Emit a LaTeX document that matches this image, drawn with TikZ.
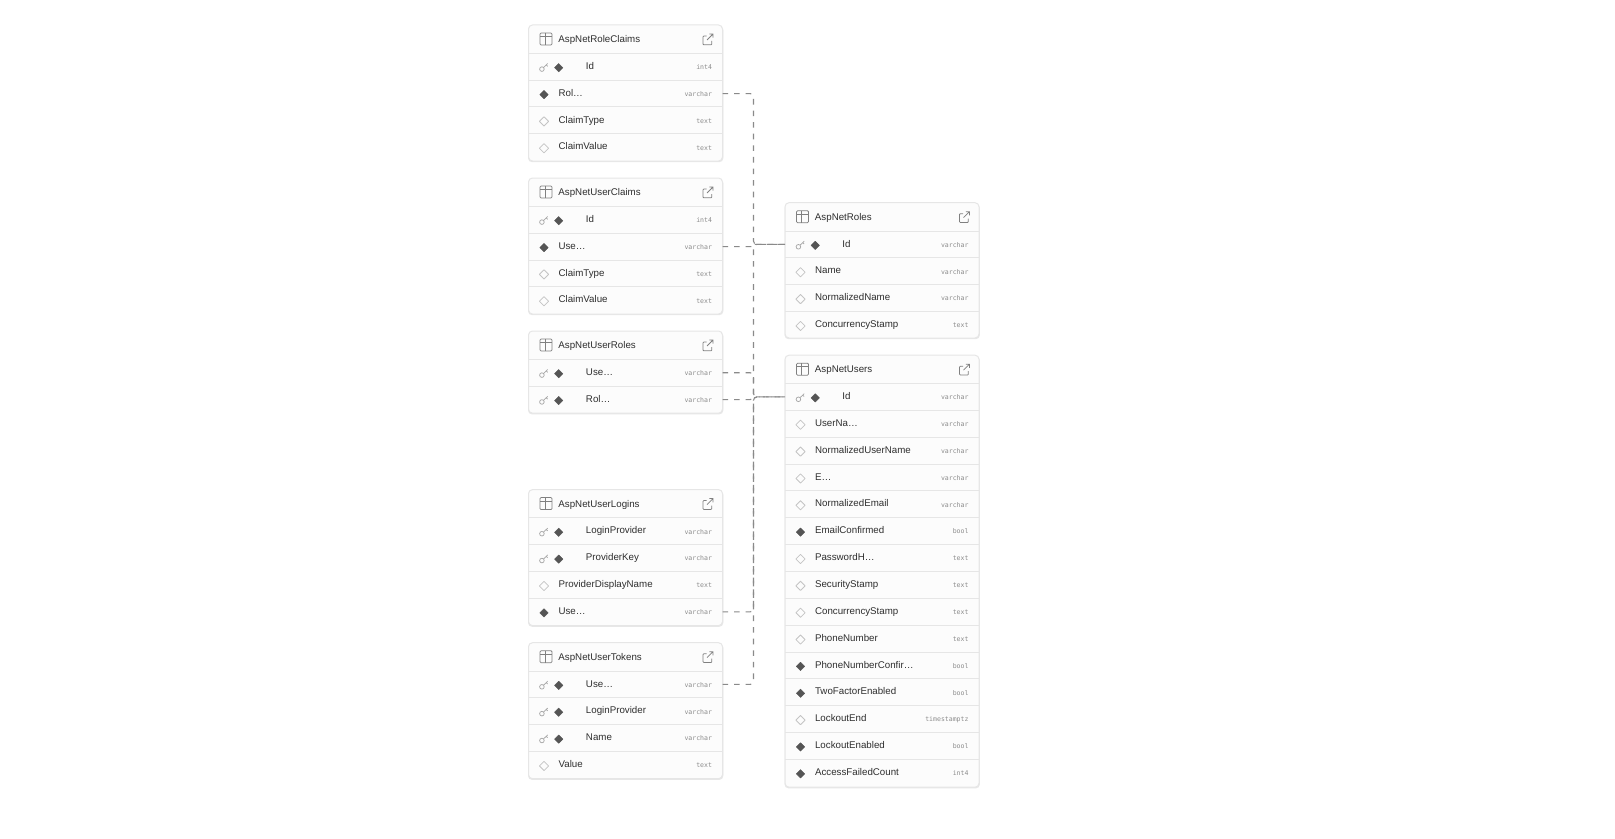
\documentclass[tikz,border=0pt]{standalone}
\usepackage{fontspec}
\setmainfont{Liberation Sans}
\newfontfamily\typefont{DejaVu Sans Mono}
\definecolor{dkd}{HTML}{555555}
\definecolor{ltd}{HTML}{C4C4C4}
\definecolor{sepc}{HTML}{E6E6E6}
\definecolor{rowc}{HTML}{FCFCFC}
\definecolor{icon}{HTML}{808080}
\definecolor{txtc}{HTML}{2E2E2E}
\definecolor{typec}{HTML}{8C8C8C}
\definecolor{connc}{HTML}{8A8A8A}
\tikzset{
  x=0.75pt,y=-0.75pt,
  tablebox/.style={draw=sepc,line width=0.75pt,fill=rowc,rounded corners=3pt,anchor=north west,inner sep=0pt,outer sep=0pt,minimum width=145.5pt},
  tableshade/.style={draw=none,fill=black!9,rounded corners=3pt,anchor=north west,inner sep=0pt,outer sep=0pt,minimum width=146.5pt},
  rowbox/.style={anchor=north west,inner sep=0pt,outer sep=0pt,minimum width=145.5pt,minimum height=20.14pt},
  rowline/.style={draw=sepc,line width=0.75pt},
  label/.style={anchor=base west,inner sep=0pt,text=txtc,font=\fontsize{7.3}{9}\selectfont},
  typelabel/.style={anchor=base east,inner sep=0pt,text=typec,font=\typefont\fontsize{4.9}{6}\selectfont},
  keymark/.style={draw=ltd!85!black,line width=0.55pt},
  diafull/.style={fill=dkd,draw=dkd,line width=0.3pt,line join=round},
  diaempty/.style={draw=ltd,line width=0.6pt,line join=round},
  iconline/.style={draw=icon,line width=0.55pt},
  conn/.style={draw=connc,line width=0.8pt,dash pattern=on 4.2pt off 4.5pt,rounded corners=2.5pt},
  connshort/.style={conn,rounded corners=1.2pt},
}
% \dbtable{id}{x}{y}{title}{rows: kind/text/type}; kind 1 key+filled, 2 filled, 3 hollow
\newcommand{\dbtable}[5]{%
  \coordinate (#1-o) at (#2,#3);
  \node[rowbox,minimum height=21.2pt] (#1-h) at (#2,#3) {};
  \node[label] (#1-title) at (#2+29.7,#3+17.6) {#4};
  % table icon
  \draw[iconline,rounded corners=0.8pt] (#2+11.5,#3+8) rectangle (#2+23.5,#3+20);
  \draw[iconline] (#2+11.5,#3+11.5) -- (#2+23.5,#3+11.5) (#2+16.5,#3+8) -- (#2+16.5,#3+20);
  % external link icon
  \draw[iconline,rounded corners=0.6pt] (#2+178,#3+11) -- (#2+174.5,#3+11) -- (#2+174.5,#3+19.8) -- (#2+183.3,#3+19.8) -- (#2+183.3,#3+16);
  \draw[iconline] (#2+178.5,#3+15) -- (#2+184.5,#3+9) (#2+180.8,#3+9) -- (#2+184.5,#3+9) -- (#2+184.5,#3+12.7);
  \foreach \kd/\txt/\typ [count=\i] in {#5}{%
    \pgfmathsetmacro{\rt}{#3+28.3+(\i-1)*26.85}
    \pgfmathsetmacro{\rc}{\rt+14.4}
    \pgfmathsetmacro{\rb}{\rt+16.2}
    \node[rowbox] (#1-\i) at (#2,\rt) {};
    \draw[rowline] (#2,\rt) -- (#2+194,\rt);
    \pgfmathsetmacro{\tcx}{#2+(\kd==1?57.2:29.8)}
    \pgfmathsetmacro{\dcx}{#2+(\kd==1?30.2:15.5)}
    \ifnum\kd=1
      \draw[keymark] (#2+13.4,\rc+1.4) circle (2.3);
      \draw[keymark] (#2+15.1,\rc-0.3) -- (#2+19.2,\rc-4.2) (#2+17.6,\rc-2.8) -- (#2+19.2,\rc-1.4);
    \fi
    \ifnum\kd=3
      \draw[diaempty] (\dcx-4.6,\rc) -- (\dcx,\rc-4.6) -- (\dcx+4.6,\rc) -- (\dcx,\rc+4.6) -- cycle;
    \else
      \fill[diafull] (\dcx-4.2,\rc) -- (\dcx,\rc-4.2) -- (\dcx+4.2,\rc) -- (\dcx,\rc+4.2) -- cycle;
    \fi
    \node[label] (#1-\i-n) at (\tcx,\rb-0.2) {\txt};
    \node[typelabel] (#1-\i-t) at (#2+183.8,\rb) {\typ};
  }
}
\begin{document}
\begin{tikzpicture}
\useasboundingbox (0,0) rectangle (1615,838);
\fill[white] (0,0) rectangle (1615,838);
% table frames
\foreach \nm/\px/\py/\ph in {a/528.5/25/136,b/528.5/178/136,c/528.5/331/82.2,d/528.5/489.6/136,e/528.5/642.7/136,f/785/202.7/135.3,g/785/355.2/432}{
  \node[tableshade,minimum height=\ph*0.75pt] (\nm-s) at (\px-0.5,\py+1.2) {};
  \node[tablebox,minimum height=\ph*0.75pt] (\nm-b) at (\px,\py) {};
}
\dbtable{a}{528.5}{25}{AspNetRoleClaims}{1/Id/int4,2/Rol…/varchar,3/ClaimType/text,3/ClaimValue/text}
\dbtable{b}{528.5}{178}{AspNetUserClaims}{1/Id/int4,2/Use…/varchar,3/ClaimType/text,3/ClaimValue/text}
\dbtable{c}{528.5}{331}{AspNetUserRoles}{1/Use…/varchar,1/Rol…/varchar}
\dbtable{d}{528.5}{489.6}{AspNetUserLogins}{1/LoginProvider/varchar,1/ProviderKey/varchar,3/ProviderDisplayName/text,2/Use…/varchar}
\dbtable{e}{528.5}{642.7}{AspNetUserTokens}{1/Use…/varchar,1/LoginProvider/varchar,1/Name/varchar,3/Value/text}
\dbtable{f}{785}{202.7}{AspNetRoles}{1/Id/varchar,3/Name/varchar,3/NormalizedName/varchar,3/ConcurrencyStamp/text}
\dbtable{g}{785}{355.2}{AspNetUsers}{1/Id/varchar,3/UserNa…/varchar,3/NormalizedUserName/varchar,3/E…/varchar,3/NormalizedEmail/varchar,2/EmailConfirmed/bool,3/PasswordH…/text,3/SecurityStamp/text,3/ConcurrencyStamp/text,3/PhoneNumber/text,2/PhoneNumberConfir…/bool,2/TwoFactorEnabled/bool,3/LockoutEnd/timestamptz,2/LockoutEnabled/bool,2/AccessFailedCount/int4}
% connectors
\draw[conn] (a-2.east) -- ++(31,0) |- (f-1.west);
\draw[connshort] (b-2.east) -- ++(31,0) |- (f-1.west);
\draw[conn] (c-2.east) -- ++(31,0) |- (f-1.west);
\draw[conn] (c-1.east) -- ++(31,0) |- (g-1.west);
\draw[conn] (d-4.east) -- ++(31,0) |- (g-1.west);
\draw[conn] (e-1.east) -- ++(31,0) |- (g-1.west);
\end{tikzpicture}
\end{document}
